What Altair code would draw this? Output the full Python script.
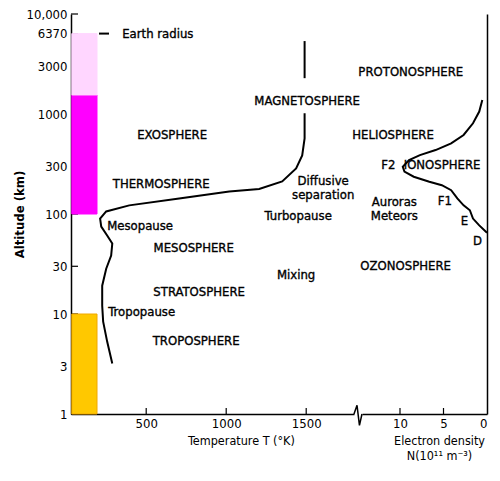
import altair as alt
import pandas as pd

FONT = "Liberation Sans Narrow, DejaVu Sans Condensed, Arial Narrow, sans-serif"

# ---------------- data ----------------
# Temperature profile: T (K) vs altitude (km); segment 2 sits above the MAGNETOSPHERE label
temp_T = [288, 256, 231, 225, 225, 250, 281, 288, 256, 219, 212, 250, 394, 706,
          1019, 1206, 1350, 1437, 1475, 1490, 1490, 1490, 1490]
temp_alt = [3.2, 5.3, 8.4, 12.1, 19.2, 28.4, 38.4, 50.6, 60.9, 74.9, 90.1, 106, 122, 143,
            168, 178, 212, 286, 386, 571, 1018, 2282, 5362]
temp_seg = [1] * 21 + [2] * 2

# Electron density profile: N (10^11 m^-3) vs altitude (km)
ne_N = [0.54, 0.89, 1.61, 2.69, 4.12, 5.91, 7.71, 8.96, 9.68, 9.49, 8.42, 6.63,
        5.19, 4.12, 3.41, 2.69, 1.97, 1.61, 0.89, 0.0]
ne_alt = [1384, 1059, 808, 617, 509, 436, 388, 346, 297, 265, 236, 210,
          194, 173, 143, 122, 109, 90, 77, 65]

# Coloured altitude bands on the left
band_name = ["troposphere", "thermo-exosphere", "to Earth radius"]
band_lo = [1, 100, 1550]
band_hi = [10, 1550, 6370]
band_fill = ["#FFC800", "#FF00FF", "#FFD6FF"]
band_line = ["#F0A800", "#FF00FF", "#FFD6FF"]

# Axis ticks
alt_ticks = [1, 3, 10, 30, 100, 300, 1000, 3000, 6370, 10000]
T_ticks = [500, 1000, 1500]
N_ticks = [10, 5, 0]

# Region labels (temperature side); multi-line labels are anchored on their first line
left_text = ["EXOSPHERE", "THERMOSPHERE", "Mesopause", "MESOSPHERE", "STRATOSPHERE",
             "Tropopause", "TROPOSPHERE", "Mixing", "Turbopause",
             "Diffusive\nseparation", "MAGNETOSPHERE"]
left_T = [662, 594, 462, 797, 831, 472, 812, 1437, 1450, 1606, 1506]
left_alt = [617, 200, 75.9, 45.7, 16.6, 10.5, 5.37, 24.5, 95.5, 212, 1349]

# Region labels (electron density side)
right_text = ["PROTONOSPHERE", "HELIOSPHERE", "F2", "IONOSPHERE", "Auroras\nMeteors",
              "F1", "E", "D", "OZONOSPHERE"]
right_N = [8.76, 10.8, 11.34, 5.16, 10.65, 4.84, 2.58, 1.08, 9.35]
right_alt = [2630, 617, 309, 309, 132, 135, 85.1, 53.7, 30.2]

earth_T = [350]
earth_alt = [6370]

# axis-break glyph (density-side units)
brk_N = [15.29, 14.94, 14.66, 14.37]
brk_alt = [1.0, 1.22, 0.77, 1.0]

# ---------------- frames ----------------
temp_df = pd.DataFrame({"T": temp_T, "alt": temp_alt, "seg": temp_seg,
                        "i": range(len(temp_T))})
ne_df = pd.DataFrame({"N": ne_N, "alt": ne_alt, "i": range(len(ne_N))})
band_df = pd.DataFrame({"band": band_name, "lo": band_lo, "hi": band_hi})
ytick_df = pd.DataFrame({"alt": alt_ticks})
Ttick_df = pd.DataFrame({"T": T_ticks})
Ntick_df = pd.DataFrame({"N": [v for v in N_ticks if v > 0]})
lt_df = pd.DataFrame({"text": left_text, "T": left_T, "alt": left_alt})
rt_df = pd.DataFrame({"text": right_text, "N": right_N, "alt": right_alt})
er_df = pd.DataFrame({"text": ["Earth  radius"], "T": earth_T, "alt": earth_alt})
brk_df = pd.DataFrame({"N": brk_N, "alt": brk_alt, "i": range(len(brk_N))})

W_L, W_R, H = 283, 125, 400
PX_N = 8.7  # pixels per density unit

yscale = alt.Scale(type="log", domain=[1, 10000], nice=False)
yaxis = alt.Axis(values=alt_ticks,
                 labelExpr="datum.value == 10000 ? '10,000' : format(datum.value, 'd')",
                 ticks=False, labelPadding=4, labelFont=FONT, labelFontSize=13,
                 labelColor="black", domainColor="black", domainWidth=1.5,
                 title="Altitude  (km)", titleFont=FONT, titleFontSize=13,
                 titleFontWeight="bold", titleColor="black", titleX=-45, grid=False)
yaxis_r = alt.Axis(orient="right", labels=False, ticks=False, title=None,
                   domainColor="black", domainWidth=1.5, grid=False)

xscale_L = alt.Scale(domain=[30, 30 + W_L / 0.16], nice=False, zero=False)
xaxis_L = alt.Axis(values=T_ticks, format="d", ticks=False, labelPadding=3,
                   labelFont=FONT, labelFontSize=13, labelColor="black",
                   domainColor="black", domainWidth=1.5,
                   title="Temperature  T (°K)", titleFont=FONT, titleFontSize=12.5,
                   titleFontWeight="normal", titleColor="black", titleX=170,
                   titlePadding=4, grid=False)
xscale_R = alt.Scale(domain=[0, W_R / PX_N], reverse=True, nice=False, zero=False)
xaxis_R = alt.Axis(values=N_ticks, format="d", ticks=False, labelPadding=3,
                   labelFont=FONT, labelFontSize=13, labelColor="black",
                   domainColor="black", domainWidth=1.5,
                   title=["Electron density", "N(10¹¹ m⁻³)"], titleFont=FONT,
                   titleFontSize=12.5, titleFontWeight="normal", titleColor="black",
                   titleX=77, titlePadding=4, titleLineHeight=15, grid=False)


def YL(f="alt"):
    return alt.Y(f, type="quantitative", scale=yscale, axis=yaxis)


def YR(f="alt"):
    return alt.Y(f, type="quantitative", scale=yscale, axis=yaxis_r)


def XL(f="T"):
    return alt.X(f, type="quantitative", scale=xscale_L, axis=xaxis_L)


def XR(f="N"):
    return alt.X(f, type="quantitative", scale=xscale_R, axis=xaxis_R)


TXT = dict(font=FONT, fontSize=13, color="black", stroke="black", strokeWidth=0.35)

# ---------------- left panel ----------------
ytick = alt.Chart(ytick_df).mark_rule(color="black", strokeWidth=1.2).encode(
    y=YL(), x=alt.value(0), x2=alt.value(7))
Ttick = alt.Chart(Ttick_df).mark_rule(color="black", strokeWidth=1.2).encode(
    x=XL(), y=alt.value(H - 6), y2=alt.value(H))
bands = alt.Chart(band_df).mark_rect(strokeWidth=1).encode(
    y=YL("lo"), y2="hi", x=alt.value(0.8), x2=alt.value(26),
    fill=alt.Fill("band:N", scale=alt.Scale(domain=band_name, range=band_fill), legend=None),
    stroke=alt.Stroke("band:N", scale=alt.Scale(domain=band_name, range=band_line), legend=None))
tline = alt.Chart(temp_df).mark_line(color="black", strokeWidth=2).encode(
    x=XL(), y=YL(), detail="seg:N", order="i:Q")
edash = alt.Chart(er_df).mark_rule(color="black", strokeWidth=2).encode(
    y=YL(), x=alt.value(28), x2=alt.value(38))
etext = alt.Chart(er_df).mark_text(align="left", baseline="middle", **TXT).encode(
    x=XL(), y=YL(), text="text:N")
ltext = alt.Chart(lt_df).mark_text(align="center", baseline="middle", lineBreak="\n",
                                   lineHeight=14, **TXT).encode(
    x=XL(), y=YL(), text="text:N")

left = alt.layer(ytick, Ttick, bands, tline, edash, etext, ltext).properties(
    width=W_L, height=H)

# ---------------- right panel ----------------
Ntick = alt.Chart(Ntick_df).mark_rule(color="black", strokeWidth=1.2).encode(
    x=XR(), y=alt.value(H - 6), y2=alt.value(H))
nline = alt.Chart(ne_df).mark_line(color="black", strokeWidth=2).encode(
    x=XR(), y=YR(), order="i:Q")
brk = alt.Chart(brk_df).mark_line(color="black", strokeWidth=1.5).encode(
    x=XR(), y=YR(), order="i:Q")
rtext = alt.Chart(rt_df).mark_text(align="center", baseline="middle", lineBreak="\n",
                                   lineHeight=14, **TXT).encode(
    x=XR(), y=YR(), text="text:N")

right = alt.layer(Ntick, nline, brk, rtext).properties(width=W_R, height=H)

chart = alt.hconcat(left, right, spacing=8, bounds="flush").resolve_scale(
    x="independent", y="independent").resolve_axis(y="independent").properties(
    padding={"left": 5, "top": 0, "right": 0, "bottom": 0}
).configure_view(stroke=None)

chart.save("out.html", embed_options={"renderer": "svg", "actions": False})
